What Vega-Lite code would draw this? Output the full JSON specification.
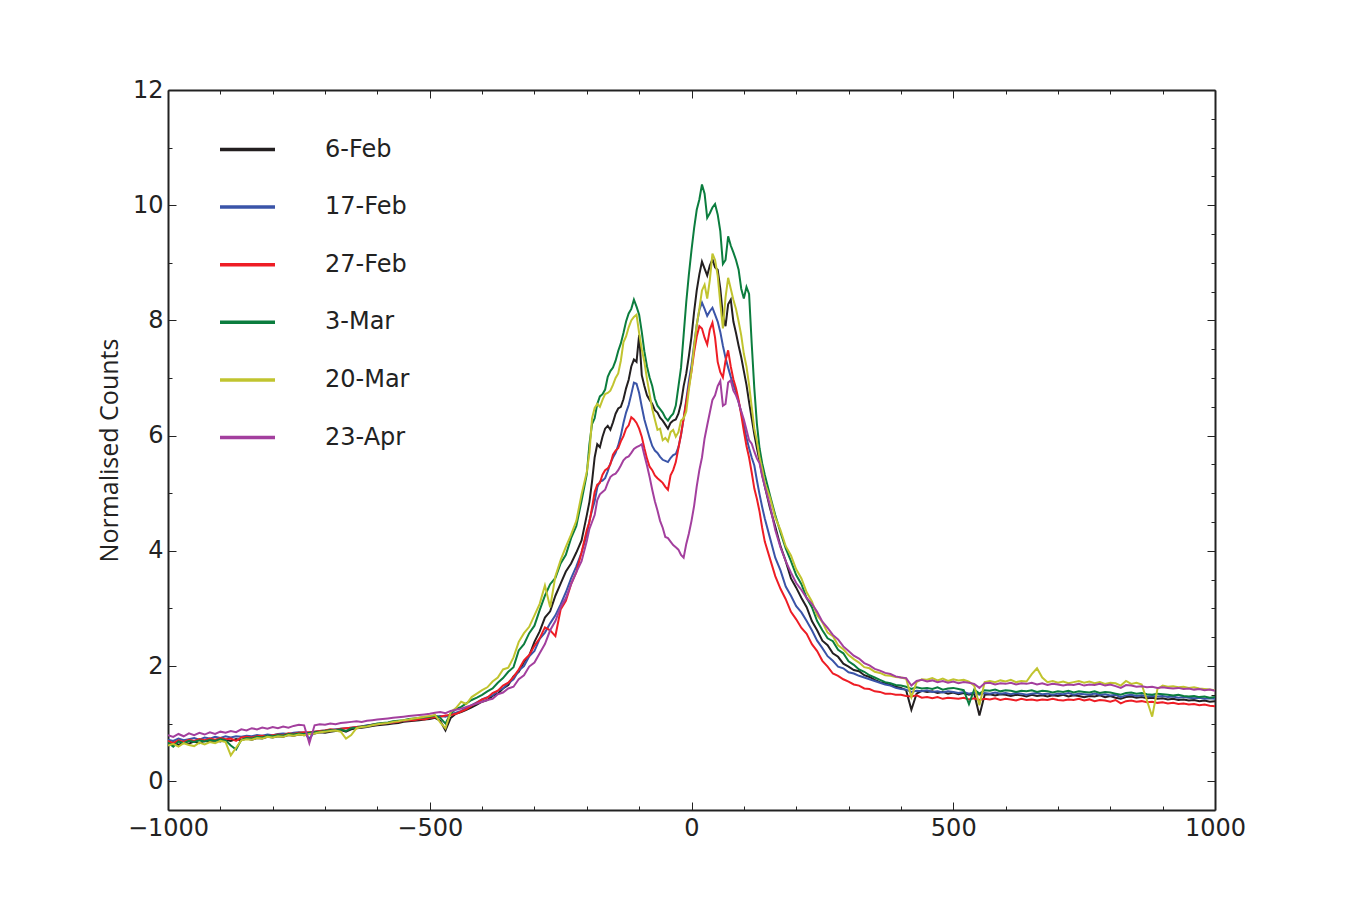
{
  "$schema": "https://vega.github.io/schema/vega-lite/v6.json",
  "width": 1047,
  "height": 720,
  "autosize": "none",
  "padding": {"left": 168, "top": 90, "right": 135, "bottom": 90},
  "background": "white",
  "config": {"view": {"stroke": null}, "font": "DejaVu Sans"},
  "data": {"values": [
    {"x":-1000,"6-Feb":0.64,"17-Feb":0.72,"27-Feb":0.70,"3-Mar":0.67,"20-Mar":0.62,"23-Apr":0.80},
    {"x":-990,"6-Feb":0.68,"17-Feb":0.70,"27-Feb":0.66,"3-Mar":0.60,"20-Mar":0.65,"23-Apr":0.77},
    {"x":-980,"6-Feb":0.63,"17-Feb":0.74,"27-Feb":0.71,"3-Mar":0.69,"20-Mar":0.60,"23-Apr":0.82},
    {"x":-970,"6-Feb":0.67,"17-Feb":0.71,"27-Feb":0.68,"3-Mar":0.66,"20-Mar":0.66,"23-Apr":0.78},
    {"x":-960,"6-Feb":0.65,"17-Feb":0.73,"27-Feb":0.72,"3-Mar":0.70,"20-Mar":0.63,"23-Apr":0.83},
    {"x":-950,"6-Feb":0.69,"17-Feb":0.75,"27-Feb":0.70,"3-Mar":0.68,"20-Mar":0.61,"23-Apr":0.80},
    {"x":-940,"6-Feb":0.66,"17-Feb":0.72,"27-Feb":0.73,"3-Mar":0.71,"20-Mar":0.67,"23-Apr":0.84},
    {"x":-930,"6-Feb":0.70,"17-Feb":0.76,"27-Feb":0.71,"3-Mar":0.69,"20-Mar":0.64,"23-Apr":0.81},
    {"x":-920,"6-Feb":0.68,"17-Feb":0.74,"27-Feb":0.74,"3-Mar":0.72,"20-Mar":0.68,"23-Apr":0.85},
    {"x":-910,"6-Feb":0.71,"17-Feb":0.77,"27-Feb":0.72,"3-Mar":0.70,"20-Mar":0.66,"23-Apr":0.82},
    {"x":-900,"6-Feb":0.69,"17-Feb":0.75,"27-Feb":0.75,"3-Mar":0.73,"20-Mar":0.70,"23-Apr":0.86},
    {"x":-890,"6-Feb":0.72,"17-Feb":0.78,"27-Feb":0.73,"3-Mar":0.71,"20-Mar":0.68,"23-Apr":0.84},
    {"x":-880,"6-Feb":0.70,"17-Feb":0.76,"27-Feb":0.74,"3-Mar":0.62,"20-Mar":0.45,"23-Apr":0.87},
    {"x":-870,"6-Feb":0.73,"17-Feb":0.78,"27-Feb":0.70,"3-Mar":0.55,"20-Mar":0.58,"23-Apr":0.85},
    {"x":-860,"6-Feb":0.71,"17-Feb":0.77,"27-Feb":0.76,"3-Mar":0.72,"20-Mar":0.71,"23-Apr":0.90},
    {"x":-850,"6-Feb":0.74,"17-Feb":0.79,"27-Feb":0.77,"3-Mar":0.75,"20-Mar":0.73,"23-Apr":0.88},
    {"x":-840,"6-Feb":0.72,"17-Feb":0.78,"27-Feb":0.76,"3-Mar":0.74,"20-Mar":0.72,"23-Apr":0.92},
    {"x":-830,"6-Feb":0.75,"17-Feb":0.80,"27-Feb":0.78,"3-Mar":0.77,"20-Mar":0.75,"23-Apr":0.90},
    {"x":-820,"6-Feb":0.74,"17-Feb":0.79,"27-Feb":0.79,"3-Mar":0.76,"20-Mar":0.74,"23-Apr":0.93},
    {"x":-810,"6-Feb":0.77,"17-Feb":0.81,"27-Feb":0.78,"3-Mar":0.79,"20-Mar":0.77,"23-Apr":0.91},
    {"x":-800,"6-Feb":0.76,"17-Feb":0.80,"27-Feb":0.80,"3-Mar":0.78,"20-Mar":0.76,"23-Apr":0.94},
    {"x":-790,"6-Feb":0.78,"17-Feb":0.82,"27-Feb":0.81,"3-Mar":0.80,"20-Mar":0.78,"23-Apr":0.92},
    {"x":-780,"6-Feb":0.77,"17-Feb":0.83,"27-Feb":0.80,"3-Mar":0.79,"20-Mar":0.77,"23-Apr":0.95},
    {"x":-770,"6-Feb":0.80,"17-Feb":0.82,"27-Feb":0.83,"3-Mar":0.82,"20-Mar":0.80,"23-Apr":0.93},
    {"x":-760,"6-Feb":0.79,"17-Feb":0.84,"27-Feb":0.82,"3-Mar":0.81,"20-Mar":0.79,"23-Apr":0.96},
    {"x":-750,"6-Feb":0.81,"17-Feb":0.85,"27-Feb":0.84,"3-Mar":0.83,"20-Mar":0.81,"23-Apr":0.98},
    {"x":-740,"6-Feb":0.80,"17-Feb":0.84,"27-Feb":0.85,"3-Mar":0.82,"20-Mar":0.80,"23-Apr":0.97},
    {"x":-730,"6-Feb":0.82,"17-Feb":0.74,"27-Feb":0.85,"3-Mar":0.84,"20-Mar":0.82,"23-Apr":0.66},
    {"x":-720,"6-Feb":0.83,"17-Feb":0.86,"27-Feb":0.86,"3-Mar":0.85,"20-Mar":0.83,"23-Apr":0.97},
    {"x":-710,"6-Feb":0.85,"17-Feb":0.87,"27-Feb":0.87,"3-Mar":0.86,"20-Mar":0.85,"23-Apr":0.99},
    {"x":-700,"6-Feb":0.84,"17-Feb":0.88,"27-Feb":0.88,"3-Mar":0.87,"20-Mar":0.86,"23-Apr":0.98},
    {"x":-690,"6-Feb":0.86,"17-Feb":0.89,"27-Feb":0.90,"3-Mar":0.89,"20-Mar":0.87,"23-Apr":1.00},
    {"x":-680,"6-Feb":0.87,"17-Feb":0.90,"27-Feb":0.89,"3-Mar":0.88,"20-Mar":0.88,"23-Apr":0.99},
    {"x":-670,"6-Feb":0.89,"17-Feb":0.91,"27-Feb":0.91,"3-Mar":0.90,"20-Mar":0.86,"23-Apr":1.01},
    {"x":-660,"6-Feb":0.86,"17-Feb":0.92,"27-Feb":0.92,"3-Mar":0.87,"20-Mar":0.74,"23-Apr":1.02},
    {"x":-650,"6-Feb":0.90,"17-Feb":0.93,"27-Feb":0.93,"3-Mar":0.92,"20-Mar":0.80,"23-Apr":1.03},
    {"x":-640,"6-Feb":0.92,"17-Feb":0.94,"27-Feb":0.94,"3-Mar":0.93,"20-Mar":0.92,"23-Apr":1.04},
    {"x":-630,"6-Feb":0.93,"17-Feb":0.95,"27-Feb":0.95,"3-Mar":0.95,"20-Mar":0.94,"23-Apr":1.03},
    {"x":-620,"6-Feb":0.94,"17-Feb":0.97,"27-Feb":0.96,"3-Mar":0.96,"20-Mar":0.95,"23-Apr":1.05},
    {"x":-610,"6-Feb":0.96,"17-Feb":0.98,"27-Feb":0.98,"3-Mar":0.98,"20-Mar":0.97,"23-Apr":1.06},
    {"x":-600,"6-Feb":0.97,"17-Feb":0.99,"27-Feb":0.99,"3-Mar":1.00,"20-Mar":0.99,"23-Apr":1.07},
    {"x":-590,"6-Feb":0.98,"17-Feb":1.00,"27-Feb":1.00,"3-Mar":1.01,"20-Mar":1.00,"23-Apr":1.08},
    {"x":-580,"6-Feb":0.99,"17-Feb":1.01,"27-Feb":1.01,"3-Mar":1.02,"20-Mar":1.01,"23-Apr":1.09},
    {"x":-570,"6-Feb":1.00,"17-Feb":1.02,"27-Feb":1.02,"3-Mar":1.04,"20-Mar":1.03,"23-Apr":1.10},
    {"x":-560,"6-Feb":1.01,"17-Feb":1.04,"27-Feb":1.03,"3-Mar":1.05,"20-Mar":1.04,"23-Apr":1.11},
    {"x":-550,"6-Feb":1.03,"17-Feb":1.05,"27-Feb":1.05,"3-Mar":1.06,"20-Mar":1.06,"23-Apr":1.12},
    {"x":-540,"6-Feb":1.04,"17-Feb":1.06,"27-Feb":1.06,"3-Mar":1.08,"20-Mar":1.07,"23-Apr":1.13},
    {"x":-530,"6-Feb":1.05,"17-Feb":1.07,"27-Feb":1.06,"3-Mar":1.09,"20-Mar":1.09,"23-Apr":1.14},
    {"x":-520,"6-Feb":1.06,"17-Feb":1.08,"27-Feb":1.08,"3-Mar":1.10,"20-Mar":1.10,"23-Apr":1.15},
    {"x":-510,"6-Feb":1.07,"17-Feb":1.09,"27-Feb":1.07,"3-Mar":1.11,"20-Mar":1.12,"23-Apr":1.16},
    {"x":-500,"6-Feb":1.08,"17-Feb":1.10,"27-Feb":1.10,"3-Mar":1.12,"20-Mar":1.13,"23-Apr":1.17},
    {"x":-490,"6-Feb":1.10,"17-Feb":1.12,"27-Feb":1.11,"3-Mar":1.14,"20-Mar":1.15,"23-Apr":1.19},
    {"x":-480,"6-Feb":1.05,"17-Feb":1.13,"27-Feb":1.12,"3-Mar":1.10,"20-Mar":1.02,"23-Apr":1.20},
    {"x":-470,"6-Feb":0.88,"17-Feb":1.12,"27-Feb":1.14,"3-Mar":1.00,"20-Mar":0.92,"23-Apr":1.18},
    {"x":-460,"6-Feb":1.10,"17-Feb":1.16,"27-Feb":1.15,"3-Mar":1.18,"20-Mar":1.20,"23-Apr":1.22},
    {"x":-450,"6-Feb":1.17,"17-Feb":1.19,"27-Feb":1.17,"3-Mar":1.25,"20-Mar":1.27,"23-Apr":1.24},
    {"x":-440,"6-Feb":1.20,"17-Feb":1.22,"27-Feb":1.21,"3-Mar":1.29,"20-Mar":1.38,"23-Apr":1.26},
    {"x":-430,"6-Feb":1.24,"17-Feb":1.27,"27-Feb":1.25,"3-Mar":1.35,"20-Mar":1.34,"23-Apr":1.29},
    {"x":-420,"6-Feb":1.28,"17-Feb":1.32,"27-Feb":1.31,"3-Mar":1.41,"20-Mar":1.46,"23-Apr":1.32},
    {"x":-410,"6-Feb":1.33,"17-Feb":1.37,"27-Feb":1.36,"3-Mar":1.45,"20-Mar":1.52,"23-Apr":1.35},
    {"x":-400,"6-Feb":1.38,"17-Feb":1.42,"27-Feb":1.42,"3-Mar":1.50,"20-Mar":1.58,"23-Apr":1.38},
    {"x":-390,"6-Feb":1.41,"17-Feb":1.46,"27-Feb":1.45,"3-Mar":1.56,"20-Mar":1.63,"23-Apr":1.41},
    {"x":-380,"6-Feb":1.48,"17-Feb":1.49,"27-Feb":1.53,"3-Mar":1.61,"20-Mar":1.73,"23-Apr":1.43},
    {"x":-370,"6-Feb":1.52,"17-Feb":1.57,"27-Feb":1.57,"3-Mar":1.71,"20-Mar":1.80,"23-Apr":1.51},
    {"x":-360,"6-Feb":1.61,"17-Feb":1.61,"27-Feb":1.66,"3-Mar":1.79,"20-Mar":1.94,"23-Apr":1.54},
    {"x":-350,"6-Feb":1.67,"17-Feb":1.70,"27-Feb":1.71,"3-Mar":1.90,"20-Mar":1.97,"23-Apr":1.61},
    {"x":-340,"6-Feb":1.82,"17-Feb":1.77,"27-Feb":1.81,"3-Mar":1.98,"20-Mar":2.15,"23-Apr":1.64},
    {"x":-330,"6-Feb":1.90,"17-Feb":1.92,"27-Feb":1.94,"3-Mar":2.27,"20-Mar":2.42,"23-Apr":1.77},
    {"x":-320,"6-Feb":2.07,"17-Feb":2.00,"27-Feb":2.10,"3-Mar":2.38,"20-Mar":2.57,"23-Apr":1.84},
    {"x":-310,"6-Feb":2.18,"17-Feb":2.17,"27-Feb":2.19,"3-Mar":2.57,"20-Mar":2.68,"23-Apr":1.99},
    {"x":-300,"6-Feb":2.42,"17-Feb":2.26,"27-Feb":2.35,"3-Mar":2.70,"20-Mar":2.88,"23-Apr":2.06},
    {"x":-290,"6-Feb":2.60,"17-Feb":2.47,"27-Feb":2.48,"3-Mar":2.97,"20-Mar":3.08,"23-Apr":2.22},
    {"x":-280,"6-Feb":2.84,"17-Feb":2.58,"27-Feb":2.67,"3-Mar":3.22,"20-Mar":3.40,"23-Apr":2.38},
    {"x":-270,"6-Feb":2.95,"17-Feb":2.74,"27-Feb":2.62,"3-Mar":3.42,"20-Mar":3.02,"23-Apr":2.62},
    {"x":-260,"6-Feb":3.22,"17-Feb":2.88,"27-Feb":2.52,"3-Mar":3.53,"20-Mar":3.56,"23-Apr":2.78},
    {"x":-250,"6-Feb":3.43,"17-Feb":3.07,"27-Feb":2.98,"3-Mar":3.78,"20-Mar":3.84,"23-Apr":3.02},
    {"x":-240,"6-Feb":3.64,"17-Feb":3.28,"27-Feb":3.13,"3-Mar":3.93,"20-Mar":4.07,"23-Apr":3.18},
    {"x":-230,"6-Feb":3.78,"17-Feb":3.52,"27-Feb":3.42,"3-Mar":4.22,"20-Mar":4.28,"23-Apr":3.42},
    {"x":-220,"6-Feb":3.97,"17-Feb":3.73,"27-Feb":3.63,"3-Mar":4.43,"20-Mar":4.52,"23-Apr":3.63},
    {"x":-210,"6-Feb":4.18,"17-Feb":3.97,"27-Feb":3.97,"3-Mar":4.87,"20-Mar":4.98,"23-Apr":3.82},
    {"x":-200,"6-Feb":4.62,"17-Feb":4.28,"27-Feb":4.36,"3-Mar":5.33,"20-Mar":5.37,"23-Apr":4.17},
    {"x":-195,"6-Feb":4.85,"17-Feb":4.52,"27-Feb":4.50,"3-Mar":5.85,"20-Mar":5.70,"23-Apr":4.38},
    {"x":-190,"6-Feb":5.20,"17-Feb":4.70,"27-Feb":4.75,"3-Mar":6.20,"20-Mar":6.30,"23-Apr":4.50},
    {"x":-185,"6-Feb":5.62,"17-Feb":4.86,"27-Feb":5.02,"3-Mar":6.30,"20-Mar":6.48,"23-Apr":4.62},
    {"x":-180,"6-Feb":5.85,"17-Feb":5.10,"27-Feb":5.15,"3-Mar":6.55,"20-Mar":6.55,"23-Apr":4.88},
    {"x":-175,"6-Feb":5.80,"17-Feb":5.20,"27-Feb":5.18,"3-Mar":6.68,"20-Mar":6.50,"23-Apr":4.98},
    {"x":-170,"6-Feb":5.98,"17-Feb":5.22,"27-Feb":5.32,"3-Mar":6.72,"20-Mar":6.62,"23-Apr":5.02},
    {"x":-165,"6-Feb":6.12,"17-Feb":5.26,"27-Feb":5.40,"3-Mar":6.80,"20-Mar":6.72,"23-Apr":5.06},
    {"x":-160,"6-Feb":6.17,"17-Feb":5.38,"27-Feb":5.43,"3-Mar":7.02,"20-Mar":6.74,"23-Apr":5.18},
    {"x":-155,"6-Feb":6.10,"17-Feb":5.52,"27-Feb":5.50,"3-Mar":7.12,"20-Mar":6.78,"23-Apr":5.28},
    {"x":-150,"6-Feb":6.23,"17-Feb":5.62,"27-Feb":5.67,"3-Mar":7.18,"20-Mar":6.88,"23-Apr":5.32},
    {"x":-145,"6-Feb":6.38,"17-Feb":5.70,"27-Feb":5.74,"3-Mar":7.30,"20-Mar":7.00,"23-Apr":5.34},
    {"x":-140,"6-Feb":6.47,"17-Feb":5.83,"27-Feb":5.78,"3-Mar":7.47,"20-Mar":7.08,"23-Apr":5.40},
    {"x":-135,"6-Feb":6.50,"17-Feb":6.00,"27-Feb":5.90,"3-Mar":7.60,"20-Mar":7.30,"23-Apr":5.48},
    {"x":-130,"6-Feb":6.63,"17-Feb":6.22,"27-Feb":5.99,"3-Mar":7.78,"20-Mar":7.62,"23-Apr":5.57},
    {"x":-125,"6-Feb":6.82,"17-Feb":6.40,"27-Feb":6.12,"3-Mar":7.98,"20-Mar":7.72,"23-Apr":5.62},
    {"x":-120,"6-Feb":6.97,"17-Feb":6.53,"27-Feb":6.18,"3-Mar":8.12,"20-Mar":7.88,"23-Apr":5.64},
    {"x":-115,"6-Feb":7.20,"17-Feb":6.72,"27-Feb":6.32,"3-Mar":8.20,"20-Mar":8.00,"23-Apr":5.70},
    {"x":-110,"6-Feb":7.32,"17-Feb":6.92,"27-Feb":6.28,"3-Mar":8.36,"20-Mar":8.06,"23-Apr":5.77},
    {"x":-105,"6-Feb":7.28,"17-Feb":6.90,"27-Feb":6.22,"3-Mar":8.24,"20-Mar":8.10,"23-Apr":5.80},
    {"x":-100,"6-Feb":7.75,"17-Feb":6.74,"27-Feb":6.12,"3-Mar":8.10,"20-Mar":7.78,"23-Apr":5.82},
    {"x":-95,"6-Feb":7.05,"17-Feb":6.50,"27-Feb":5.98,"3-Mar":7.80,"20-Mar":7.50,"23-Apr":5.85},
    {"x":-90,"6-Feb":6.86,"17-Feb":6.28,"27-Feb":5.78,"3-Mar":7.46,"20-Mar":7.28,"23-Apr":5.66},
    {"x":-85,"6-Feb":6.70,"17-Feb":6.12,"27-Feb":5.60,"3-Mar":7.20,"20-Mar":6.98,"23-Apr":5.48},
    {"x":-80,"6-Feb":6.62,"17-Feb":5.96,"27-Feb":5.46,"3-Mar":7.01,"20-Mar":6.72,"23-Apr":5.28},
    {"x":-75,"6-Feb":6.55,"17-Feb":5.82,"27-Feb":5.40,"3-Mar":6.86,"20-Mar":6.46,"23-Apr":5.06},
    {"x":-70,"6-Feb":6.44,"17-Feb":5.74,"27-Feb":5.31,"3-Mar":6.64,"20-Mar":6.28,"23-Apr":4.86},
    {"x":-65,"6-Feb":6.40,"17-Feb":5.70,"27-Feb":5.26,"3-Mar":6.52,"20-Mar":6.10,"23-Apr":4.70},
    {"x":-60,"6-Feb":6.31,"17-Feb":5.63,"27-Feb":5.22,"3-Mar":6.46,"20-Mar":6.12,"23-Apr":4.52},
    {"x":-55,"6-Feb":6.26,"17-Feb":5.58,"27-Feb":5.18,"3-Mar":6.40,"20-Mar":5.92,"23-Apr":4.40},
    {"x":-50,"6-Feb":6.19,"17-Feb":5.56,"27-Feb":5.11,"3-Mar":6.31,"20-Mar":5.96,"23-Apr":4.24},
    {"x":-45,"6-Feb":6.12,"17-Feb":5.54,"27-Feb":5.06,"3-Mar":6.26,"20-Mar":5.90,"23-Apr":4.22},
    {"x":-40,"6-Feb":6.22,"17-Feb":5.61,"27-Feb":5.31,"3-Mar":6.33,"20-Mar":6.06,"23-Apr":4.16},
    {"x":-35,"6-Feb":6.26,"17-Feb":5.66,"27-Feb":5.40,"3-Mar":6.38,"20-Mar":6.10,"23-Apr":4.10},
    {"x":-30,"6-Feb":6.28,"17-Feb":5.68,"27-Feb":5.54,"3-Mar":6.52,"20-Mar":5.98,"23-Apr":4.06},
    {"x":-25,"6-Feb":6.38,"17-Feb":5.80,"27-Feb":5.78,"3-Mar":6.85,"20-Mar":6.06,"23-Apr":4.02},
    {"x":-20,"6-Feb":6.56,"17-Feb":6.01,"27-Feb":6.02,"3-Mar":7.18,"20-Mar":6.26,"23-Apr":3.93},
    {"x":-15,"6-Feb":6.86,"17-Feb":6.30,"27-Feb":6.30,"3-Mar":7.75,"20-Mar":6.30,"23-Apr":3.88},
    {"x":-10,"6-Feb":7.08,"17-Feb":6.62,"27-Feb":6.58,"3-Mar":8.32,"20-Mar":6.42,"23-Apr":4.12},
    {"x":-5,"6-Feb":7.38,"17-Feb":6.95,"27-Feb":6.85,"3-Mar":8.80,"20-Mar":6.80,"23-Apr":4.30},
    {"x":0,"6-Feb":7.72,"17-Feb":7.22,"27-Feb":7.12,"3-Mar":9.22,"20-Mar":7.12,"23-Apr":4.52},
    {"x":5,"6-Feb":8.15,"17-Feb":7.58,"27-Feb":7.45,"3-Mar":9.60,"20-Mar":7.55,"23-Apr":4.78},
    {"x":10,"6-Feb":8.52,"17-Feb":7.92,"27-Feb":7.72,"3-Mar":9.92,"20-Mar":7.92,"23-Apr":5.12},
    {"x":15,"6-Feb":8.80,"17-Feb":8.18,"27-Feb":7.90,"3-Mar":10.10,"20-Mar":8.20,"23-Apr":5.40},
    {"x":20,"6-Feb":9.02,"17-Feb":8.31,"27-Feb":7.86,"3-Mar":10.36,"20-Mar":8.52,"23-Apr":5.62},
    {"x":25,"6-Feb":8.90,"17-Feb":8.20,"27-Feb":7.70,"3-Mar":10.20,"20-Mar":8.62,"23-Apr":5.95},
    {"x":30,"6-Feb":8.78,"17-Feb":8.08,"27-Feb":7.58,"3-Mar":9.78,"20-Mar":8.38,"23-Apr":6.18},
    {"x":35,"6-Feb":8.95,"17-Feb":8.16,"27-Feb":7.84,"3-Mar":9.86,"20-Mar":8.70,"23-Apr":6.40},
    {"x":40,"6-Feb":9.06,"17-Feb":8.22,"27-Feb":7.96,"3-Mar":9.96,"20-Mar":9.16,"23-Apr":6.62},
    {"x":45,"6-Feb":8.92,"17-Feb":8.10,"27-Feb":7.70,"3-Mar":10.02,"20-Mar":9.05,"23-Apr":6.70},
    {"x":50,"6-Feb":8.88,"17-Feb":7.98,"27-Feb":7.28,"3-Mar":9.84,"20-Mar":8.78,"23-Apr":6.86},
    {"x":55,"6-Feb":8.55,"17-Feb":7.80,"27-Feb":7.10,"3-Mar":9.55,"20-Mar":8.30,"23-Apr":6.95},
    {"x":60,"6-Feb":8.08,"17-Feb":7.56,"27-Feb":7.01,"3-Mar":8.98,"20-Mar":7.86,"23-Apr":6.52},
    {"x":65,"6-Feb":7.90,"17-Feb":7.35,"27-Feb":7.30,"3-Mar":9.05,"20-Mar":8.40,"23-Apr":6.55},
    {"x":70,"6-Feb":8.28,"17-Feb":7.18,"27-Feb":7.48,"3-Mar":9.46,"20-Mar":8.74,"23-Apr":6.92},
    {"x":75,"6-Feb":8.36,"17-Feb":7.02,"27-Feb":7.20,"3-Mar":9.30,"20-Mar":8.55,"23-Apr":6.96},
    {"x":80,"6-Feb":7.98,"17-Feb":6.88,"27-Feb":6.98,"3-Mar":9.18,"20-Mar":8.36,"23-Apr":6.78},
    {"x":85,"6-Feb":7.78,"17-Feb":6.76,"27-Feb":6.82,"3-Mar":9.05,"20-Mar":8.20,"23-Apr":6.70},
    {"x":90,"6-Feb":7.56,"17-Feb":6.58,"27-Feb":6.62,"3-Mar":8.88,"20-Mar":7.98,"23-Apr":6.58},
    {"x":95,"6-Feb":7.36,"17-Feb":6.40,"27-Feb":6.36,"3-Mar":8.55,"20-Mar":7.74,"23-Apr":6.42},
    {"x":100,"6-Feb":7.12,"17-Feb":6.18,"27-Feb":6.08,"3-Mar":8.38,"20-Mar":7.42,"23-Apr":6.28},
    {"x":105,"6-Feb":6.88,"17-Feb":5.96,"27-Feb":5.82,"3-Mar":8.58,"20-Mar":7.20,"23-Apr":6.10},
    {"x":110,"6-Feb":6.58,"17-Feb":5.78,"27-Feb":5.62,"3-Mar":8.46,"20-Mar":6.88,"23-Apr":5.92},
    {"x":115,"6-Feb":6.30,"17-Feb":5.62,"27-Feb":5.36,"3-Mar":7.60,"20-Mar":6.50,"23-Apr":5.86},
    {"x":120,"6-Feb":6.02,"17-Feb":5.48,"27-Feb":5.08,"3-Mar":6.82,"20-Mar":6.12,"23-Apr":5.72},
    {"x":125,"6-Feb":5.78,"17-Feb":5.22,"27-Feb":4.90,"3-Mar":6.20,"20-Mar":5.90,"23-Apr":5.60},
    {"x":130,"6-Feb":5.56,"17-Feb":4.98,"27-Feb":4.68,"3-Mar":5.78,"20-Mar":5.62,"23-Apr":5.52},
    {"x":135,"6-Feb":5.32,"17-Feb":4.76,"27-Feb":4.40,"3-Mar":5.52,"20-Mar":5.42,"23-Apr":5.30},
    {"x":140,"6-Feb":5.12,"17-Feb":4.56,"27-Feb":4.16,"3-Mar":5.32,"20-Mar":5.18,"23-Apr":5.12},
    {"x":150,"6-Feb":4.74,"17-Feb":4.22,"27-Feb":3.86,"3-Mar":4.96,"20-Mar":4.92,"23-Apr":4.78},
    {"x":160,"6-Feb":4.42,"17-Feb":3.88,"27-Feb":3.56,"3-Mar":4.62,"20-Mar":4.58,"23-Apr":4.36},
    {"x":170,"6-Feb":4.08,"17-Feb":3.66,"27-Feb":3.34,"3-Mar":4.32,"20-Mar":4.36,"23-Apr":4.06},
    {"x":180,"6-Feb":3.82,"17-Feb":3.38,"27-Feb":3.16,"3-Mar":4.04,"20-Mar":4.08,"23-Apr":3.82},
    {"x":190,"6-Feb":3.52,"17-Feb":3.22,"27-Feb":2.94,"3-Mar":3.82,"20-Mar":3.92,"23-Apr":3.62},
    {"x":200,"6-Feb":3.36,"17-Feb":3.04,"27-Feb":2.81,"3-Mar":3.58,"20-Mar":3.68,"23-Apr":3.44},
    {"x":210,"6-Feb":3.18,"17-Feb":2.93,"27-Feb":2.66,"3-Mar":3.42,"20-Mar":3.52,"23-Apr":3.32},
    {"x":220,"6-Feb":3.02,"17-Feb":2.78,"27-Feb":2.56,"3-Mar":3.18,"20-Mar":3.28,"23-Apr":3.18},
    {"x":230,"6-Feb":2.78,"17-Feb":2.62,"27-Feb":2.38,"3-Mar":3.02,"20-Mar":3.12,"23-Apr":3.08},
    {"x":240,"6-Feb":2.62,"17-Feb":2.44,"27-Feb":2.26,"3-Mar":2.78,"20-Mar":2.88,"23-Apr":2.94},
    {"x":250,"6-Feb":2.44,"17-Feb":2.31,"27-Feb":2.09,"3-Mar":2.62,"20-Mar":2.76,"23-Apr":2.77},
    {"x":260,"6-Feb":2.36,"17-Feb":2.17,"27-Feb":1.99,"3-Mar":2.48,"20-Mar":2.58,"23-Apr":2.66},
    {"x":270,"6-Feb":2.22,"17-Feb":2.09,"27-Feb":1.87,"3-Mar":2.43,"20-Mar":2.52,"23-Apr":2.54},
    {"x":280,"6-Feb":2.16,"17-Feb":1.99,"27-Feb":1.83,"3-Mar":2.28,"20-Mar":2.36,"23-Apr":2.46},
    {"x":290,"6-Feb":2.04,"17-Feb":1.96,"27-Feb":1.77,"3-Mar":2.22,"20-Mar":2.29,"23-Apr":2.34},
    {"x":300,"6-Feb":1.99,"17-Feb":1.89,"27-Feb":1.73,"3-Mar":2.08,"20-Mar":2.19,"23-Apr":2.26},
    {"x":310,"6-Feb":1.93,"17-Feb":1.87,"27-Feb":1.68,"3-Mar":2.02,"20-Mar":2.12,"23-Apr":2.18},
    {"x":320,"6-Feb":1.91,"17-Feb":1.83,"27-Feb":1.66,"3-Mar":1.94,"20-Mar":2.06,"23-Apr":2.13},
    {"x":330,"6-Feb":1.84,"17-Feb":1.80,"27-Feb":1.61,"3-Mar":1.90,"20-Mar":1.98,"23-Apr":2.05},
    {"x":340,"6-Feb":1.81,"17-Feb":1.77,"27-Feb":1.60,"3-Mar":1.84,"20-Mar":1.96,"23-Apr":2.01},
    {"x":350,"6-Feb":1.76,"17-Feb":1.74,"27-Feb":1.56,"3-Mar":1.80,"20-Mar":1.90,"23-Apr":1.95},
    {"x":360,"6-Feb":1.72,"17-Feb":1.71,"27-Feb":1.55,"3-Mar":1.76,"20-Mar":1.88,"23-Apr":1.92},
    {"x":370,"6-Feb":1.70,"17-Feb":1.68,"27-Feb":1.52,"3-Mar":1.72,"20-Mar":1.84,"23-Apr":1.88},
    {"x":380,"6-Feb":1.67,"17-Feb":1.66,"27-Feb":1.52,"3-Mar":1.70,"20-Mar":1.83,"23-Apr":1.86},
    {"x":390,"6-Feb":1.64,"17-Feb":1.62,"27-Feb":1.50,"3-Mar":1.67,"20-Mar":1.81,"23-Apr":1.82},
    {"x":400,"6-Feb":1.62,"17-Feb":1.60,"27-Feb":1.50,"3-Mar":1.66,"20-Mar":1.80,"23-Apr":1.80},
    {"x":410,"6-Feb":1.58,"17-Feb":1.59,"27-Feb":1.48,"3-Mar":1.64,"20-Mar":1.78,"23-Apr":1.79},
    {"x":420,"6-Feb":1.24,"17-Feb":1.55,"27-Feb":1.47,"3-Mar":1.60,"20-Mar":1.46,"23-Apr":1.66},
    {"x":430,"6-Feb":1.52,"17-Feb":1.57,"27-Feb":1.49,"3-Mar":1.63,"20-Mar":1.72,"23-Apr":1.74},
    {"x":440,"6-Feb":1.57,"17-Feb":1.56,"27-Feb":1.45,"3-Mar":1.61,"20-Mar":1.77,"23-Apr":1.76},
    {"x":450,"6-Feb":1.55,"17-Feb":1.58,"27-Feb":1.46,"3-Mar":1.62,"20-Mar":1.76,"23-Apr":1.73},
    {"x":460,"6-Feb":1.56,"17-Feb":1.55,"27-Feb":1.44,"3-Mar":1.60,"20-Mar":1.79,"23-Apr":1.75},
    {"x":470,"6-Feb":1.53,"17-Feb":1.56,"27-Feb":1.46,"3-Mar":1.63,"20-Mar":1.75,"23-Apr":1.72},
    {"x":480,"6-Feb":1.55,"17-Feb":1.54,"27-Feb":1.43,"3-Mar":1.59,"20-Mar":1.78,"23-Apr":1.74},
    {"x":490,"6-Feb":1.52,"17-Feb":1.56,"27-Feb":1.45,"3-Mar":1.61,"20-Mar":1.74,"23-Apr":1.71},
    {"x":500,"6-Feb":1.54,"17-Feb":1.55,"27-Feb":1.44,"3-Mar":1.62,"20-Mar":1.77,"23-Apr":1.73},
    {"x":510,"6-Feb":1.51,"17-Feb":1.53,"27-Feb":1.43,"3-Mar":1.60,"20-Mar":1.75,"23-Apr":1.70},
    {"x":520,"6-Feb":1.53,"17-Feb":1.55,"27-Feb":1.45,"3-Mar":1.58,"20-Mar":1.76,"23-Apr":1.72},
    {"x":530,"6-Feb":1.50,"17-Feb":1.52,"27-Feb":1.42,"3-Mar":1.34,"20-Mar":1.73,"23-Apr":1.71},
    {"x":540,"6-Feb":1.52,"17-Feb":1.54,"27-Feb":1.44,"3-Mar":1.59,"20-Mar":1.66,"23-Apr":1.69},
    {"x":550,"6-Feb":1.14,"17-Feb":1.50,"27-Feb":1.41,"3-Mar":1.52,"20-Mar":1.32,"23-Apr":1.62},
    {"x":560,"6-Feb":1.50,"17-Feb":1.53,"27-Feb":1.43,"3-Mar":1.58,"20-Mar":1.72,"23-Apr":1.70},
    {"x":570,"6-Feb":1.51,"17-Feb":1.52,"27-Feb":1.42,"3-Mar":1.57,"20-Mar":1.74,"23-Apr":1.71},
    {"x":580,"6-Feb":1.49,"17-Feb":1.54,"27-Feb":1.44,"3-Mar":1.59,"20-Mar":1.72,"23-Apr":1.68},
    {"x":590,"6-Feb":1.51,"17-Feb":1.52,"27-Feb":1.41,"3-Mar":1.56,"20-Mar":1.75,"23-Apr":1.70},
    {"x":600,"6-Feb":1.50,"17-Feb":1.53,"27-Feb":1.43,"3-Mar":1.58,"20-Mar":1.73,"23-Apr":1.69},
    {"x":610,"6-Feb":1.48,"17-Feb":1.51,"27-Feb":1.42,"3-Mar":1.57,"20-Mar":1.76,"23-Apr":1.71},
    {"x":620,"6-Feb":1.50,"17-Feb":1.53,"27-Feb":1.40,"3-Mar":1.55,"20-Mar":1.72,"23-Apr":1.68},
    {"x":630,"6-Feb":1.49,"17-Feb":1.52,"27-Feb":1.43,"3-Mar":1.57,"20-Mar":1.74,"23-Apr":1.70},
    {"x":640,"6-Feb":1.47,"17-Feb":1.50,"27-Feb":1.41,"3-Mar":1.56,"20-Mar":1.73,"23-Apr":1.69},
    {"x":650,"6-Feb":1.50,"17-Feb":1.52,"27-Feb":1.42,"3-Mar":1.58,"20-Mar":1.86,"23-Apr":1.71},
    {"x":660,"6-Feb":1.48,"17-Feb":1.53,"27-Feb":1.40,"3-Mar":1.55,"20-Mar":1.96,"23-Apr":1.68},
    {"x":670,"6-Feb":1.49,"17-Feb":1.51,"27-Feb":1.42,"3-Mar":1.57,"20-Mar":1.80,"23-Apr":1.70},
    {"x":680,"6-Feb":1.47,"17-Feb":1.52,"27-Feb":1.41,"3-Mar":1.56,"20-Mar":1.72,"23-Apr":1.67},
    {"x":690,"6-Feb":1.49,"17-Feb":1.50,"27-Feb":1.43,"3-Mar":1.54,"20-Mar":1.74,"23-Apr":1.69},
    {"x":700,"6-Feb":1.48,"17-Feb":1.52,"27-Feb":1.41,"3-Mar":1.56,"20-Mar":1.71,"23-Apr":1.68},
    {"x":710,"6-Feb":1.50,"17-Feb":1.51,"27-Feb":1.40,"3-Mar":1.55,"20-Mar":1.73,"23-Apr":1.66},
    {"x":720,"6-Feb":1.47,"17-Feb":1.53,"27-Feb":1.42,"3-Mar":1.57,"20-Mar":1.70,"23-Apr":1.68},
    {"x":730,"6-Feb":1.49,"17-Feb":1.50,"27-Feb":1.41,"3-Mar":1.54,"20-Mar":1.72,"23-Apr":1.67},
    {"x":740,"6-Feb":1.48,"17-Feb":1.52,"27-Feb":1.43,"3-Mar":1.56,"20-Mar":1.74,"23-Apr":1.69},
    {"x":750,"6-Feb":1.46,"17-Feb":1.51,"27-Feb":1.40,"3-Mar":1.55,"20-Mar":1.71,"23-Apr":1.66},
    {"x":760,"6-Feb":1.48,"17-Feb":1.50,"27-Feb":1.42,"3-Mar":1.54,"20-Mar":1.73,"23-Apr":1.68},
    {"x":770,"6-Feb":1.47,"17-Feb":1.52,"27-Feb":1.39,"3-Mar":1.56,"20-Mar":1.70,"23-Apr":1.67},
    {"x":780,"6-Feb":1.49,"17-Feb":1.50,"27-Feb":1.41,"3-Mar":1.53,"20-Mar":1.72,"23-Apr":1.69},
    {"x":790,"6-Feb":1.46,"17-Feb":1.51,"27-Feb":1.40,"3-Mar":1.55,"20-Mar":1.69,"23-Apr":1.66},
    {"x":800,"6-Feb":1.48,"17-Feb":1.49,"27-Feb":1.38,"3-Mar":1.54,"20-Mar":1.71,"23-Apr":1.68},
    {"x":810,"6-Feb":1.45,"17-Feb":1.50,"27-Feb":1.41,"3-Mar":1.52,"20-Mar":1.70,"23-Apr":1.65},
    {"x":820,"6-Feb":1.43,"17-Feb":1.46,"27-Feb":1.35,"3-Mar":1.50,"20-Mar":1.66,"23-Apr":1.62},
    {"x":830,"6-Feb":1.46,"17-Feb":1.49,"27-Feb":1.39,"3-Mar":1.53,"20-Mar":1.74,"23-Apr":1.67},
    {"x":840,"6-Feb":1.47,"17-Feb":1.50,"27-Feb":1.40,"3-Mar":1.54,"20-Mar":1.69,"23-Apr":1.66},
    {"x":850,"6-Feb":1.45,"17-Feb":1.48,"27-Feb":1.38,"3-Mar":1.52,"20-Mar":1.71,"23-Apr":1.64},
    {"x":860,"6-Feb":1.46,"17-Feb":1.49,"27-Feb":1.39,"3-Mar":1.53,"20-Mar":1.68,"23-Apr":1.65},
    {"x":870,"6-Feb":1.44,"17-Feb":1.47,"27-Feb":1.37,"3-Mar":1.51,"20-Mar":1.40,"23-Apr":1.63},
    {"x":880,"6-Feb":1.45,"17-Feb":1.48,"27-Feb":1.38,"3-Mar":1.50,"20-Mar":1.12,"23-Apr":1.64},
    {"x":890,"6-Feb":1.43,"17-Feb":1.47,"27-Feb":1.36,"3-Mar":1.52,"20-Mar":1.60,"23-Apr":1.62},
    {"x":900,"6-Feb":1.44,"17-Feb":1.48,"27-Feb":1.37,"3-Mar":1.51,"20-Mar":1.66,"23-Apr":1.63},
    {"x":910,"6-Feb":1.42,"17-Feb":1.46,"27-Feb":1.35,"3-Mar":1.50,"20-Mar":1.64,"23-Apr":1.62},
    {"x":920,"6-Feb":1.43,"17-Feb":1.47,"27-Feb":1.36,"3-Mar":1.49,"20-Mar":1.65,"23-Apr":1.61},
    {"x":930,"6-Feb":1.41,"17-Feb":1.45,"27-Feb":1.34,"3-Mar":1.50,"20-Mar":1.63,"23-Apr":1.62},
    {"x":940,"6-Feb":1.42,"17-Feb":1.46,"27-Feb":1.35,"3-Mar":1.48,"20-Mar":1.64,"23-Apr":1.60},
    {"x":950,"6-Feb":1.40,"17-Feb":1.45,"27-Feb":1.33,"3-Mar":1.47,"20-Mar":1.62,"23-Apr":1.61},
    {"x":960,"6-Feb":1.41,"17-Feb":1.44,"27-Feb":1.34,"3-Mar":1.48,"20-Mar":1.63,"23-Apr":1.59},
    {"x":970,"6-Feb":1.39,"17-Feb":1.45,"27-Feb":1.32,"3-Mar":1.46,"20-Mar":1.61,"23-Apr":1.60},
    {"x":980,"6-Feb":1.40,"17-Feb":1.43,"27-Feb":1.33,"3-Mar":1.47,"20-Mar":1.60,"23-Apr":1.58},
    {"x":990,"6-Feb":1.38,"17-Feb":1.44,"27-Feb":1.31,"3-Mar":1.45,"20-Mar":1.59,"23-Apr":1.59},
    {"x":1000,"6-Feb":1.39,"17-Feb":1.43,"27-Feb":1.30,"3-Mar":1.46,"20-Mar":1.58,"23-Apr":1.57}
  ]},
  "transform": [
    {"fold": ["6-Feb", "17-Feb", "27-Feb", "3-Mar", "20-Mar", "23-Apr"], "as": ["date", "counts"]}
  ],
  "layer": [
    {
      "mark": {"type": "line", "strokeWidth": 2, "clip": true},
      "encoding": {
        "x": {
          "field": "x", "type": "quantitative",
          "scale": {"domain": [-1000, 1000], "nice": false, "zero": false},
          "axis": {
            "orient": "bottom", "title": null, "grid": false, "format": "d",
            "values": [-1000,-900,-800,-700,-600,-500,-400,-300,-200,-100,0,100,200,300,400,500,600,700,800,900,1000],
            "labelExpr": "datum.value % 500 === 0 ? datum.label : ''",
            "tickSize": {"condition": {"test": "datum.value % 500 === 0", "value": -8}, "value": -4},
            "tickColor": "#222", "tickWidth": 1,
            "domainColor": "#222", "domainWidth": 2,
            "labelFontSize": 24, "labelColor": "#222", "labelPadding": 14.5,
            "labelFlush": false, "labelOverlap": false, "labelBound": false
          }
        },
        "y": {
          "field": "counts", "type": "quantitative",
          "scale": {"domain": [-0.5, 12], "nice": false, "zero": false},
          "axis": {
            "orient": "left", "title": "Normalised Counts", "grid": false, "format": "d",
            "values": [0,0.5,1,1.5,2,2.5,3,3.5,4,4.5,5,5.5,6,6.5,7,7.5,8,8.5,9,9.5,10,10.5,11,11.5,12],
            "labelExpr": "datum.value % 2 === 0 ? datum.label : ''",
            "tickSize": {"condition": {"test": "datum.value % 2 === 0", "value": -8}, "value": -4},
            "tickColor": "#222", "tickWidth": 1,
            "domainColor": "#222", "domainWidth": 2,
            "labelFontSize": 24, "labelColor": "#222", "labelPadding": 13,
            "labelFlush": false, "labelOverlap": false, "labelBound": false,
            "titleFont": "Open Sans", "titleFontSize": 25, "titleFontWeight": "normal",
            "titleColor": "#222", "titlePadding": 10
          }
        },
        "color": {
          "field": "date", "type": "nominal",
          "scale": {
            "domain": ["6-Feb", "17-Feb", "27-Feb", "3-Mar", "20-Mar", "23-Apr"],
            "range": ["#231f20", "#3a54a8", "#ee1d25", "#0b7d3e", "#c1c42f", "#a33f9e"]
          },
          "legend": {
            "orient": "none", "legendX": 50, "legendY": 30, "direction": "vertical",
            "title": null, "padding": 0,
            "symbolType": "stroke", "symbolSize": 3025, "symbolStrokeWidth": 3.5,
            "labelFontSize": 24, "labelColor": "#222", "labelOffset": 48,
            "rowPadding": 15.6
          }
        }
      }
    },
    {
      "mark": {"type": "line", "strokeOpacity": 0},
      "encoding": {
        "x": {
          "field": "x", "type": "quantitative",
          "axis": {
            "orient": "top", "title": null, "grid": false, "labels": false,
            "values": [-1000,-900,-800,-700,-600,-500,-400,-300,-200,-100,0,100,200,300,400,500,600,700,800,900,1000],
            "tickSize": {"condition": {"test": "datum.value % 500 === 0", "value": -8}, "value": -4},
            "tickColor": "#222", "tickWidth": 1,
            "domainColor": "#222", "domainWidth": 2
          }
        },
        "y": {
          "field": "counts", "type": "quantitative",
          "axis": {
            "orient": "right", "title": null, "grid": false, "labels": false,
            "values": [0,0.5,1,1.5,2,2.5,3,3.5,4,4.5,5,5.5,6,6.5,7,7.5,8,8.5,9,9.5,10,10.5,11,11.5,12],
            "tickSize": {"condition": {"test": "datum.value % 2 === 0", "value": -8}, "value": -4},
            "tickColor": "#222", "tickWidth": 1,
            "domainColor": "#222", "domainWidth": 2
          }
        }
      }
    }
  ],
  "resolve": {"axis": {"x": "independent", "y": "independent"}}
}
